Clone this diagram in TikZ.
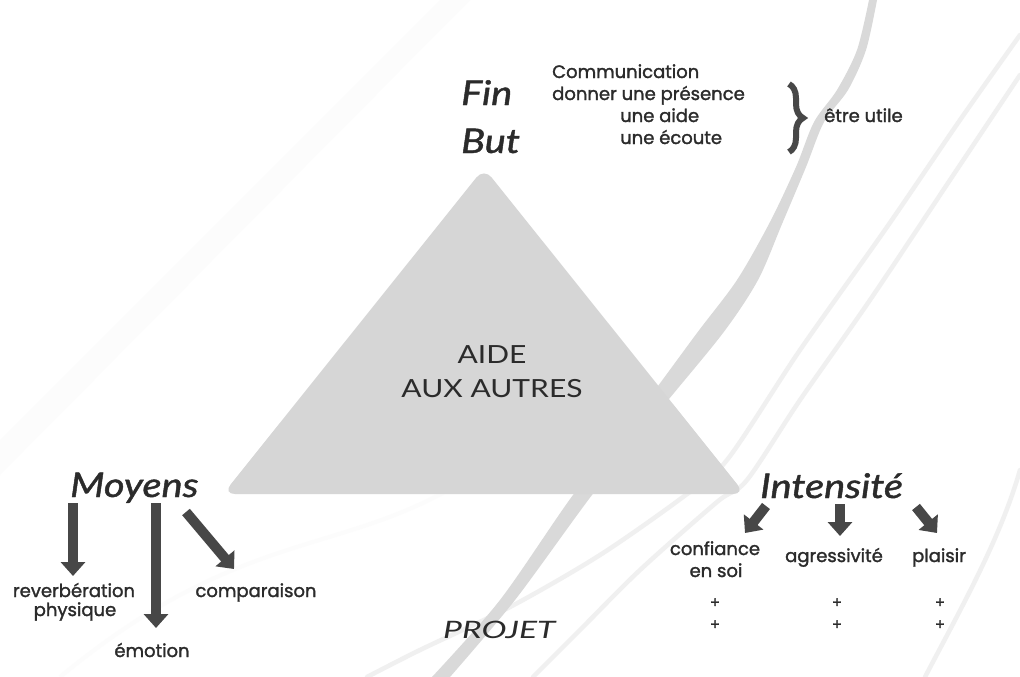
\documentclass[tikz,border=0pt]{standalone}
\usepackage{fontspec}
\usetikzlibrary{arrows.meta,decorations.pathreplacing,calc}
\newfontfamily\geo{Poppins}[FakeBold=1.6]
\newfontfamily\hand{Lato}
\newfontfamily\handb{Lato}[FakeBold=1.2]
\definecolor{txt}{HTML}{2B2B2B}
\definecolor{arr}{HTML}{474747}
\definecolor{tri}{HTML}{D6D6D6}
\definecolor{sw}{HTML}{D9D9D9}
\definecolor{lite}{HTML}{F0F0F0}
\definecolor{faint}{HTML}{FCFCFC}
\newcommand{\hx}[1]{\scalebox{1.17}[1]{#1}}
\begin{document}
\begin{tikzpicture}[x=1pt,y=-1pt,
  small/.style={font=\geo\fontsize{18}{21}\selectfont, text=txt, inner sep=0pt},
  big/.style={font=\handb\itshape\fontsize{34}{38}\selectfont, text=txt, inner sep=0pt},
  mid/.style={font=\hand\fontsize{25}{30}\selectfont, text=txt, inner sep=0pt},
  blk/.style={draw=arr, line width=10pt, -{Triangle[length=14pt,width=24pt]}},
  bgline/.style={draw=lite, line width=4.5pt, line cap=round}]
\useasboundingbox (0,0) rectangle (1020,677);
\fill[white] (0,0) rectangle (1020,677);
% faint background bands
\fill[faint] (0,440) -- (440,0) -- (470,0) -- (0,475) -- cycle;
\draw[faint, line width=4pt] (60,677) .. controls (250,520) and (350,560) .. (480,470);
% thin light lines on the right
\draw[bgline] plot[smooth] coordinates {(1020,35) (960,120) (887,227) (800,350) (727,460) (683,497) (600,555) (510,607) (420,650) (367,677)};
\draw[bgline] plot[smooth] coordinates {(1020,75) (950,180) (870,300) (800,400) (747,480) (717,502) (640,570) (580,630) (533,677)};
\draw[bgline] (1020,470) .. controls (1000,540) and (960,610) .. (925,677);
% main swoosh
\fill[sw] plot[smooth] coordinates {(869,0) (857,50) (837,90) (814,122) (796,167) (770,222) (737,280) (697,333) (640,410) (573,495) (500,600) (432,677)}
  -- plot[smooth] coordinates {(450,677) (515,600) (592,495) (660,410) (723,333) (758,280) (782,224) (806,167) (824,122) (848,90) (866,50) (877,0)} -- cycle;
% triangle
\fill[tri, rounded corners=12pt] (484,168) -- (745,494) -- (223,494) -- cycle;
\node[mid, anchor=base] (aide) at (492,363) {\scalebox{1.2}[1]{AIDE}};
\node[mid, anchor=base] (aux) at (492,397) {\scalebox{1.2}[1]{AUX AUTRES}};
% top labels
\node[big, anchor=base west] (fin) at (461,105) {\hx{Fin}};
\node[big, anchor=base west] (but) at (461,153) {\hx{But}};
\node[small, anchor=base west] (comm) at (552,78) {Communication};
\node[small, anchor=base west] (donner) at (552,100) {donner une présence};
\node[small, anchor=base west] (uaide) at (620,122) {une aide};
\node[small, anchor=base west] (ecoute) at (620,144) {une écoute};
\draw[draw=arr, line width=6pt, decorate, decoration={brace, amplitude=14pt}] (789,84) -- (789,152);
\node[small, anchor=base west] (utile) at (824,122) {être utile};
% Moyens
\node[big, anchor=base west] (moyens) at (70,497) {\hx{Moyens}};
\node[small, anchor=base] (rev) at (74,597) {reverbération};
\node[small, anchor=base] (phy) at (75,616) {physique};
\node[small, anchor=base] (emo) at (152,657) {émotion};
\node[small, anchor=base] (comp) at (256,597) {comparaison};
\coordinate (m1) at (73,503);   \coordinate (m1e) at (73,576);
\coordinate (m2) at (156,503);  \coordinate (m2e) at (156,628);
\coordinate (m3) at (186,512);  \coordinate (m3e) at (234,569);
\draw[blk] (m1) -- (m1e);
\draw[blk] (m2) -- (m2e);
\draw[blk] (m3) -- (m3e);
% Intensite
\node[big, anchor=base west] (int) at (760,498) {\hx{Intensité}};
\node[small, anchor=base] (conf) at (715,555) {confiance};
\node[small, anchor=base] (soi) at (716,577) {en soi};
\node[small, anchor=base] (agr) at (834,562) {agressivité};
\node[small, anchor=base] (pla) at (939,562) {plaisir};
\coordinate (i1) at (766,506);  \coordinate (i1e) at (745,533);
\coordinate (i2) at (840,504);  \coordinate (i2e) at (840,536);
\coordinate (i3) at (916,507);  \coordinate (i3e) at (937,533);
\draw[blk] (i1) -- (i1e);
\draw[blk] (i2) -- (i2e);
\draw[blk] (i3) -- (i3e);
\foreach \xx/\nm in {715/a,837/b,940/c}{
  \node[small, font=\geo\fontsize{15}{18}\selectfont] (p1\nm) at (\xx,603) {+};
  \node[small, font=\geo\fontsize{15}{18}\selectfont] (p2\nm) at (\xx,625) {+};
}
% Projet
\node[mid, font=\hand\itshape\fontsize{24}{28}\selectfont, anchor=base west] (projet) at (443,638) {\scalebox{1.4}[1]{PROJET}};
\end{tikzpicture}
\end{document}
